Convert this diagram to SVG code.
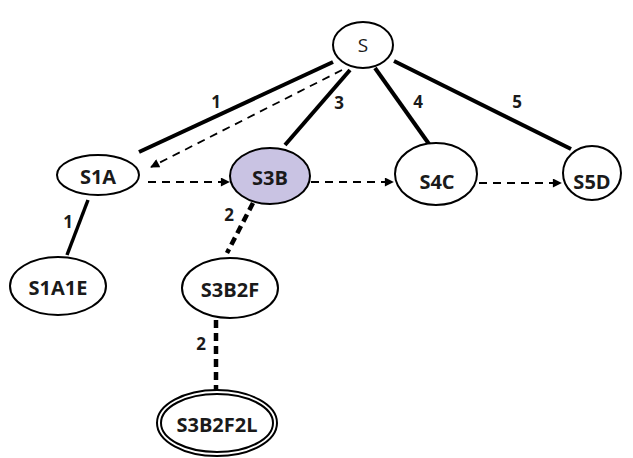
<svg xmlns="http://www.w3.org/2000/svg" width="633" height="458" viewBox="0 0 633 458">
  <style>
    .node ellipse { fill: #ffffff; stroke: #000000; stroke-width: 2; }
    .node.visited ellipse { fill: #c9c3e3; }
    .label { font-family: "Open Sans", "Liberation Sans", sans-serif; font-size: 20px; font-weight: bold; fill: #1a1a1a; text-anchor: middle; dominant-baseline: central; }
    .root-label { font-family: "Open Sans", "Liberation Sans", sans-serif; font-size: 19px; fill: #1a1a1a; text-anchor: middle; dominant-baseline: central; }
    .edge { stroke: #000000; stroke-width: 4; fill: none; }
    .edge-thin { stroke: #000000; stroke-width: 3.5; fill: none; }
    .step { stroke: #000000; stroke-width: 2; stroke-dasharray: 8 6; fill: none; marker-end: url(#arrow); }
    .child-dash { stroke: #000000; stroke-width: 4.5; stroke-dasharray: 8 5; fill: none; }
    .cost { font-family: "Open Sans", "Liberation Sans", sans-serif; font-size: 17px; font-weight: bold; fill: #1a1a1a; text-anchor: middle; dominant-baseline: central; }
  </style>
  <defs>
    <marker id="arrow" viewBox="0 0 10 10" refX="9" refY="5" markerWidth="11" markerHeight="9" orient="auto" markerUnits="userSpaceOnUse">
      <path d="M0,0 L10,5 L0,10 z" fill="#000000"/>
    </marker>
  </defs>

  <rect width="633" height="458" fill="#ffffff"/>

  <!-- connectors -->
  <g id="connectors">
    <line class="edge" x1="333" y1="62" x2="139" y2="152"/>
    <line class="edge" x1="350" y1="70" x2="285" y2="145"/>
    <line class="edge" x1="375" y1="68" x2="429" y2="144"/>
    <line class="edge" x1="394" y1="61" x2="571" y2="149"/>
    <line class="edge-thin" x1="88" y1="200" x2="67" y2="255"/>
    <line class="child-dash" x1="253" y1="203" x2="227" y2="253"/>
    <line class="child-dash" x1="216" y1="320" x2="216" y2="391"/>

    <line class="step" x1="342" y1="70" x2="151" y2="167" style="stroke-width:1.8"/>
    <line class="step" x1="148" y1="182" x2="229" y2="182"/>
    <line class="step" x1="311" y1="182" x2="393" y2="182"/>
    <line class="step" x1="479" y1="183" x2="561" y2="183"/>

    <text class="cost" x="216" y="101">1</text>
    <text class="cost" x="339" y="102">3</text>
    <text class="cost" x="418" y="101">4</text>
    <text class="cost" x="517" y="101">5</text>
    <text class="cost" x="68" y="221">1</text>
    <text class="cost" x="229" y="214">2</text>
    <text class="cost" x="201" y="343">2</text>
  </g>

  <!-- nodes -->
  <g id="S" class="node">
    <ellipse cx="363" cy="45" rx="30" ry="23"/>
    <text class="root-label" x="363" y="45">S</text>
  </g>
  <g id="S1A" class="node">
    <ellipse cx="98" cy="175" rx="41" ry="20"/>
    <text class="label" x="98" y="176">S1A</text>
  </g>
  <g id="S3B" class="node visited">
    <ellipse cx="270" cy="176" rx="40" ry="28"/>
    <text class="label" x="270" y="177">S3B</text>
  </g>
  <g id="S4C" class="node">
    <ellipse cx="436" cy="174" rx="41" ry="31"/>
    <text class="label" x="437" y="181">S4C</text>
  </g>
  <g id="S5D" class="node">
    <ellipse cx="592" cy="173" rx="29" ry="27"/>
    <text class="label" x="592" y="181">S5D</text>
  </g>
  <g id="S1A1E" class="node">
    <ellipse cx="58" cy="286" rx="48" ry="29"/>
    <text class="label" x="58" y="287">S1A1E</text>
  </g>
  <g id="S3B2F" class="node">
    <ellipse cx="230" cy="288" rx="48" ry="30"/>
    <text class="label" x="230" y="289">S3B2F</text>
  </g>
  <g id="S3B2F2L" class="node">
    <ellipse cx="217" cy="423" rx="60" ry="33"/>
    <ellipse cx="217" cy="423" rx="56" ry="29" style="fill:none"/>
    <text class="label" x="217" y="424">S3B2F2L</text>
  </g>
</svg>
